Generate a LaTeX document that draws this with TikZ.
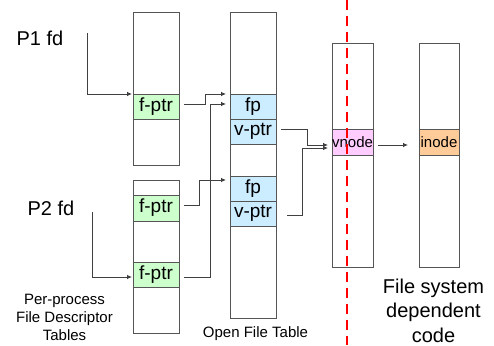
\documentclass[tikz,border=0pt]{standalone}
\usepackage{fontspec}
\setmainfont{Liberation Sans}
\usetikzlibrary{arrows.meta}
\definecolor{boxc}{HTML}{555555}
\definecolor{linec}{HTML}{404040}
\definecolor{cgreen}{HTML}{CCFFCC}
\definecolor{cblue}{HTML}{CCECFF}
\definecolor{cpink}{HTML}{FFCCFF}
\definecolor{corange}{HTML}{FFCC99}
\begin{document}
\begin{tikzpicture}[x=1pt,y=-1pt,
  tbl/.style={draw=boxc, line width=0.8pt, inner sep=0pt, outer sep=0pt, fill=white},
  cellbox/.style={tbl, font=\fontsize{19}{21}\selectfont},
  smallcell/.style={tbl, font=\fontsize{15}{17}\selectfont},
  lbl/.style={inner sep=0pt, outer sep=0pt, align=center},
  conn/.style={draw=linec, line width=0.8pt, -{Latex[length=5pt,width=4.5pt]}},
  divider/.style={draw=red, line width=2.6pt, dash pattern=on 10pt off 6pt}]
\fill[white] (0,0) rectangle (494,345);
\useasboundingbox (0,0) rectangle (494,345);

% per-process tables
\node[tbl, minimum width=46pt, minimum height=153pt] (t1) at (156,88.5) {};
\node[cellbox, fill=cgreen, minimum width=46pt, minimum height=25pt] (a1) at (156,106.5) {f-ptr};
\node[tbl, minimum width=46pt, minimum height=153pt] (t2) at (156,256.5) {};
\node[cellbox, fill=cgreen, minimum width=46pt, minimum height=26pt] (b1) at (156,208) {f-ptr};
\node[cellbox, fill=cgreen, minimum width=46pt, minimum height=25pt] (b2) at (156,274.5) {f-ptr};

% open file table
\node[tbl, minimum width=46pt, minimum height=306pt] (oft) at (253,165) {};
\node[cellbox, fill=cblue, minimum width=46pt, minimum height=25pt] (fp1) at (253,106.5) {fp};
\node[cellbox, fill=cblue, minimum width=46pt, minimum height=25pt] (vp1) at (253,131.5) {v-ptr};
\node[cellbox, fill=cblue, minimum width=46pt, minimum height=25pt] (fp2) at (253,188.5) {fp};
\node[cellbox, fill=cblue, minimum width=46pt, minimum height=25pt] (vp2) at (253,213.5) {v-ptr};

% vnode and inode tables
\node[tbl, minimum width=41pt, minimum height=224pt] (vt) at (352.5,155) {};
\node[smallcell, fill=cpink, minimum width=41pt, minimum height=26pt] (vn) at (352.5,142) {vnode};
\node[tbl, minimum width=40pt, minimum height=224pt] (it) at (439,155) {};
\node[smallcell, fill=corange, minimum width=40pt, minimum height=26pt] (in) at (439,142) {inode};

% labels
\node[lbl, font=\fontsize{20}{22}\selectfont] (p1) at (40,38) {P1 fd};
\node[lbl, font=\fontsize{20}{22}\selectfont] (p2) at (51,208) {P2 fd};
\node[lbl, font=\fontsize{15}{18}\selectfont] (ppl) at (64.5,317) {Per-process\\File Descriptor\\Tables};
\node[lbl, font=\fontsize{15}{18}\selectfont] (oftl) at (255.5,334) {Open File Table};
\node[lbl, font=\fontsize{20}{24.5}\selectfont] (fsl) at (433.5,310.5) {File system\\dependent\\code};

% connectors
\coordinate (p1s) at (87,33);
\coordinate (p2s) at (92,212);
\draw[conn, shorten >=1pt] (p1s) |- (a1.north west);
\draw[conn, shorten >=1pt] (p2s) |- ([yshift=-2.5]b2.west);

\coordinate (j1) at (205,94);
\coordinate (j2) at (210,104);
\coordinate (j3) at (199,180);
\draw[conn] ([shift={(5,-2.5)}]a1.east) -| (j1) -- ([xshift=-4]fp1.north west);
\draw[conn] ([shift={(5,2.5)}]b2.east) -| (j2) -- ([shift={(-4,-2.5)}]fp1.west);
\draw[conn] ([shift={(5,-3)}]b1.east) -| (j3) -- ([shift={(-4,4)}]fp2.north west);

\coordinate (j4) at (307,145);
\coordinate (j5) at (302,148);
\draw[conn] ([shift={(5,-2.5)}]vp1.east) -| (j4) -- ([shift={(-4,3)}]vn.west);
\draw[conn] ([shift={(11,1.5)}]vp2.east) -| (j5) -- ([shift={(-4,6)}]vn.west);
\draw[conn] ([shift={(5,3)}]vn.east) -- ([shift={(-11,3)}]in.west);

% divider
\coordinate (rt) at (347,0);
\coordinate (rb) at (347,345);
\draw[divider] (rt) -- (rb);
\end{tikzpicture}
\end{document}
